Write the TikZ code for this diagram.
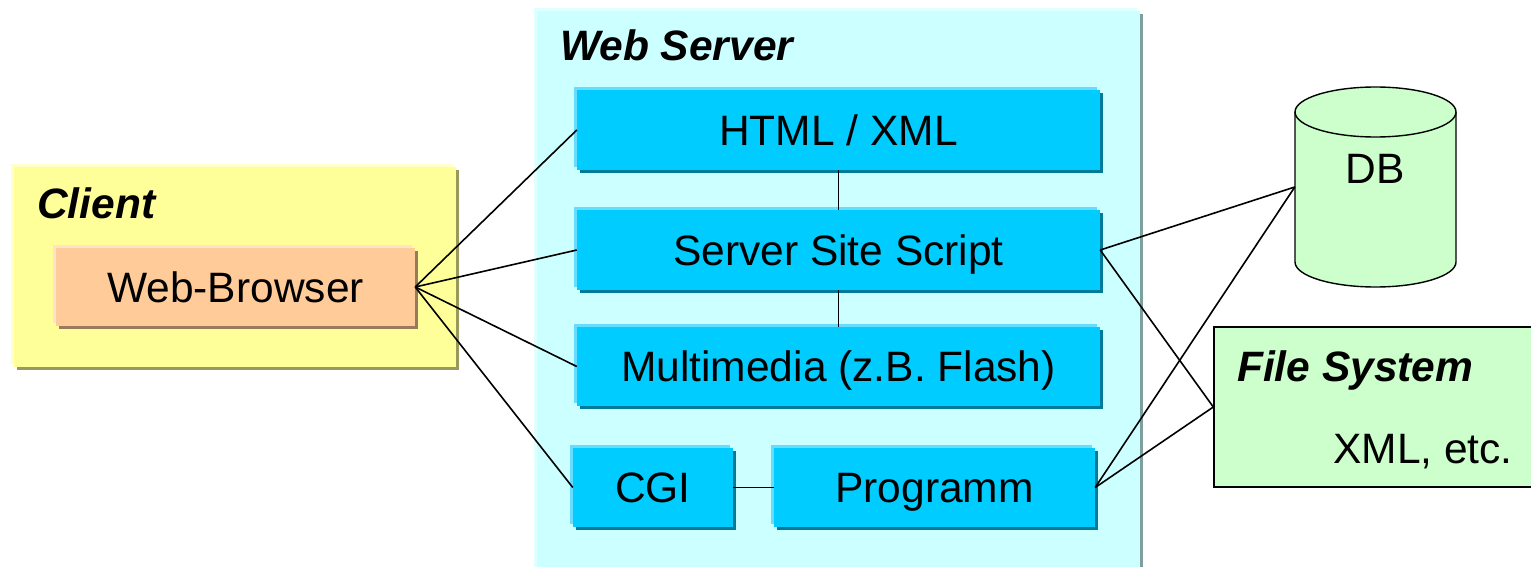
\documentclass[tikz,border=0pt]{standalone}
\usepackage{fontspec}
\setmainfont{Liberation Sans}
\usetikzlibrary{shadows}

\definecolor{tileblue}{HTML}{00CCFF}
\definecolor{tilehi}{HTML}{66DDFF}
\definecolor{tileshd}{HTML}{007A99}
\definecolor{serverbg}{HTML}{CCFFFF}
\definecolor{serverhi}{HTML}{E0FFFF}
\definecolor{servershd}{HTML}{7F9F9F}
\definecolor{clientbg}{HTML}{FFFF99}
\definecolor{clienthi}{HTML}{FFFFCC}
\definecolor{clientshd}{HTML}{99995C}
\definecolor{browserbg}{HTML}{FFCC99}
\definecolor{browserhi}{HTML}{FFE3C8}
\definecolor{browsershd}{HTML}{997A5C}
\definecolor{storebg}{HTML}{CCFFCC}

\newcommand{\bigfont}{\fontsize{42.5pt}{50pt}\selectfont}

\tikzset{
  % raised box: light edge up-left, dark edge down-right
  bevel/.style n args={3}{
    rectangle, inner sep=0pt, fill=#1,
    general shadow={shadow xshift=-3pt, shadow yshift=3pt, fill=#2},
    general shadow={shadow xshift=3pt, shadow yshift=-3pt, fill=#3}},
  tile/.style={bevel={tileblue}{tilehi}{tileshd}, font=\bigfont,
    text height=30.4pt, text depth=0pt},
  title/.style={inner sep=0pt, font=\bigfont\bfseries\itshape},
  plain/.style={inner sep=0pt, font=\bigfont},
  link/.style={line width=1.6pt, black}
}

\begin{document}
\begin{tikzpicture}[x=1pt,y=-1pt]
\useasboundingbox (0,0) rectangle (1531,567);

% background panels
\node[bevel={serverbg}{serverhi}{servershd}, minimum width=603pt, minimum height=575pt]
  (server) at (838.5,298.5) {};
\node[bevel={clientbg}{clienthi}{clientshd}, minimum width=442pt, minimum height=200pt]
  (client) at (235,267) {};

\node[title, anchor=base west] (servertitle) at (560,61) {Web Server};
\node[title, anchor=base west] (clienttitle) at (37,218) {Client};

% client side
\node[bevel={browserbg}{browserhi}{browsershd}, minimum width=359pt, minimum height=78pt,
  font=\bigfont, text height=30.4pt, text depth=0pt]
  (wb) at (235.5,287) {Web-Browser};

% server components
\node[tile, minimum width=523pt, minimum height=80pt] (html) at (838.5,130) {HTML / XML};
\node[tile, minimum width=523pt, minimum height=80pt] (sss)  at (838.5,250) {Server Site Script};
\node[tile, minimum width=523pt, minimum height=79pt] (mm)   at (838.5,366.5) {Multimedia (z.B. Flash)};
\node[tile, minimum width=160pt, minimum height=79pt] (cgi)  at (653,487.5) {CGI};
\node[tile, minimum width=321pt, minimum height=79pt] (prog) at (934.5,487.5) {Programm};

% database cylinder
\node[rectangle, inner sep=0pt, minimum width=161pt, minimum height=200pt] (db) at (1375.5,187) {};
\fill[storebg] (1295,112) -- (1295,262)
  arc[start angle=180, end angle=0, x radius=80.5, y radius=25]
  -- (1456,112)
  arc[start angle=0, end angle=-180, x radius=80.5, y radius=25] -- cycle;
\draw[line width=1.4pt] (1295,112) -- (1295,262)
  arc[start angle=180, end angle=0, x radius=80.5, y radius=25] -- (1456,112);
\draw[line width=1.4pt, fill=storebg] (1375.5,112) ellipse[x radius=80.5, y radius=25];
\node[plain, anchor=base] (dblabel) at (1375.5,183) {DB};

% file system
\node[rectangle, inner sep=0pt, draw=black, line width=1.4pt, fill=storebg,
  minimum width=326pt, minimum height=160pt] (fs) at (1377,407) {};
\node[title, anchor=base west] (fstitle) at (1237,381) {File System};
\node[plain, anchor=base east] (fsxml) at (1513,463) {XML, etc.};

% connections
\draw[link] (wb.east) -- (html.west);
\draw[link] (wb.east) -- (sss.west);
\draw[link] (wb.east) -- (mm.west);
\draw[link] (wb.east) -- (cgi.west);
\draw[link] (html.south) -- (sss.north);
\draw[link] (sss.south) -- (mm.north);
\draw[link] (cgi.east) -- (prog.west);
\draw[link] (sss.east) -- (db.west);
\draw[link] (sss.east) -- (fs.west);
\draw[link] (prog.east) -- (db.west);
\draw[link] (prog.east) -- (fs.west);
\end{tikzpicture}
\end{document}
